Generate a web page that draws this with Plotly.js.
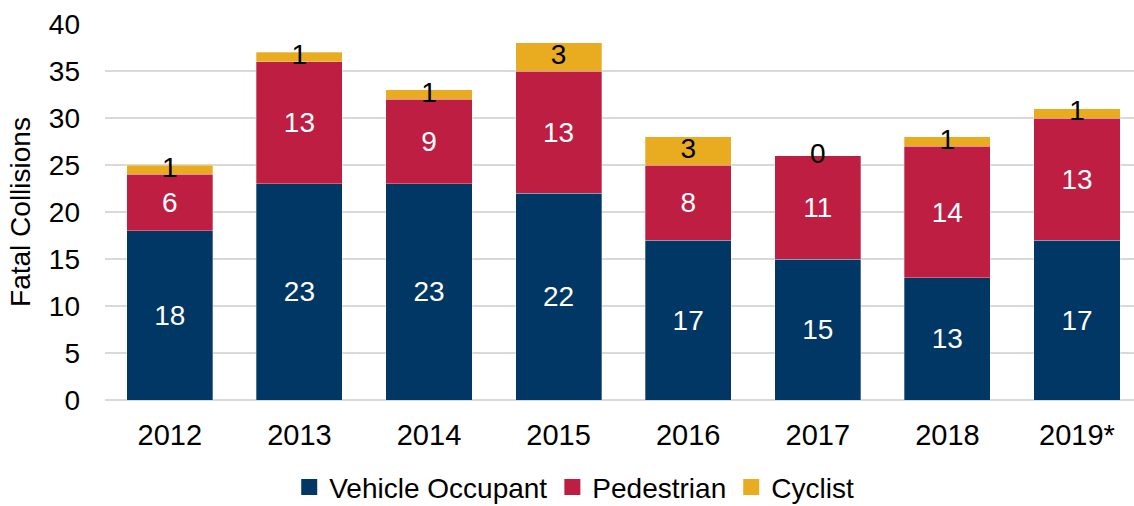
<!DOCTYPE html>
<html>
<head>
<meta charset="utf-8">
<script src="https://cdn.plot.ly/plotly-3.0.1.min.js"></script>
<style>html,body{margin:0;padding:0;background:#fff;}#chart{width:1134px;height:506px;}</style>
</head>
<body>
<div id="chart"></div>
<script>
var years = ["2012", "2013", "2014", "2015", "2016", "2017", "2018", "2019*"];
var vehicleOccupant = [18, 23, 23, 22, 17, 15, 13, 17];
var pedestrian = [6, 13, 9, 13, 8, 11, 14, 13];
var cyclist = [1, 1, 1, 3, 3, 0, 1, 1];
var seriesNames = ["Vehicle Occupant", "Pedestrian", "Cyclist"];
var seriesColors = ["#003764", "#BE1E41", "#E9AC21"];

var FONT = "Liberation Sans, Arial, sans-serif";
var FS = 28;
var cyclistLabelY = years.map(function (_, i) {
  return vehicleOccupant[i] + pedestrian[i] + cyclist[i] / 2;
});

function barTrace(name, color, vals, labelColor) {
  var t = {
    type: "bar", name: name, x: years, y: vals, showlegend: false,
    marker: {color: color, line: {color: "rgba(255,255,255,0.6)", width: 0.5}},
    hoverinfo: "name+y"
  };
  if (labelColor) {
    t.text = vals.map(String);
    t.textposition = "inside";
    t.insidetextanchor = "middle";
    t.constraintext = "none";
    t.textangle = 0;
    t.textfont = {family: FONT, size: FS, color: labelColor};
  }
  return t;
}

var traces = [
  barTrace(seriesNames[0], seriesColors[0], vehicleOccupant, "#ffffff"),
  barTrace(seriesNames[1], seriesColors[1], pedestrian, "#ffffff"),
  barTrace(seriesNames[2], seriesColors[2], cyclist, null),
  {
    type: "scatter", mode: "text", x: years, y: cyclistLabelY,
    text: cyclist.map(String), textposition: "middle center",
    textfont: {family: FONT, size: FS, color: "#000000"},
    showlegend: false, hoverinfo: "skip", cliponaxis: false
  }
];
// legend entries (square symbols)
seriesNames.forEach(function (n, k) {
  traces.push({
    type: "scatter", mode: "markers", x: [null], y: [null], name: n,
    marker: {symbol: "square", size: 18, color: seriesColors[k]},
    showlegend: true, hoverinfo: "skip"
  });
});

var layout = {
  width: 1134, height: 506,
  margin: {l: 105, r: 0, t: 24, b: 106, autoexpand: false},
  paper_bgcolor: "#ffffff", plot_bgcolor: "#ffffff",
  barmode: "stack", bargap: 0.336,
  font: {family: FONT, size: FS, color: "#000000"},
  xaxis: {
    type: "category", range: [-0.5, 7.44],
    showgrid: false, zeroline: false, showline: false,
    ticks: "", ticklabelstandoff: 15, tickangle: 0, automargin: false,
    tickfont: {family: FONT, size: 29, color: "#000000"}
  },
  yaxis: {
    range: [0, 40], dtick: 5, tick0: 0, automargin: false,
    showgrid: true, gridcolor: "#d9d9d9", gridwidth: 1.5,
    zeroline: true, zerolinecolor: "#d9d9d9", zerolinewidth: 1.5,
    showline: false, ticks: "", ticklabelstandoff: 24,
    tickfont: {family: FONT, size: FS, color: "#000000"},
    title: {text: "Fatal Collisions", font: {family: FONT, size: 28, color: "#000000"}, standoff: 10}
  },
  legend: {
    orientation: "h", xref: "paper", x: 0.456, xanchor: "center",
    yref: "paper", y: -0.232, yanchor: "middle",
    font: {family: FONT, size: 28, color: "#000000"},
    traceorder: "normal", itemwidth: 30, tracegroupgap: 0
  },
  showlegend: true
};

Plotly.newPlot("chart", traces, layout, {displayModeBar: false, staticPlot: true});
</script>
</body>
</html>
